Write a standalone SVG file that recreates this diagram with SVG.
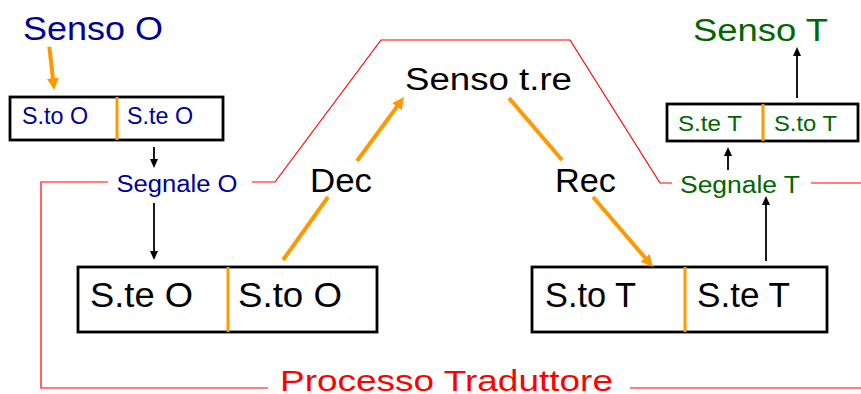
<svg xmlns="http://www.w3.org/2000/svg" width="861" height="394" viewBox="0 0 861 394">
<style>
text{font-family:"Liberation Sans",Arial,sans-serif}
.b{fill:#000099}.g{fill:#006600}.k{fill:#000}.r{fill:#ff0000}
.box{fill:#fff;stroke:#000;stroke-width:2.8}
.div{stroke:#ff9900;stroke-width:3}
.oa{stroke:#ff9900;stroke-width:4;fill:none}
.ka{stroke:#000;stroke-width:1.8;fill:none}
.red{stroke:#ff0000;stroke-width:1.2;fill:none}
</style>
<defs>
<marker id="oh" viewBox="0 0 12 12" refX="2" refY="6" markerWidth="12" markerHeight="12" markerUnits="userSpaceOnUse" orient="auto"><path d="M0,0 L12,6 L0,12 z" fill="#ff9900"/></marker>
<marker id="kh" viewBox="0 0 9 8" refX="2" refY="4" markerWidth="9" markerHeight="8" markerUnits="userSpaceOnUse" orient="auto"><path d="M0,0 L9,4 L0,8 z" fill="#000"/></marker>
</defs>
<g id="frame">
<path class="red" d="M108,182 H41 V388 H268 M252,182 H275 L381,40 H570 L660,183 H672 M811,183 H861 M630,388 H861"/>
<text class="r" x="280" y="391" font-size="30" textLength="333" lengthAdjust="spacingAndGlyphs">Processo Traduttore</text>
</g>
<g id="senso-o"><text class="b" x="23" y="40" font-size="33" textLength="140" lengthAdjust="spacingAndGlyphs">Senso O</text></g>
<g id="box-o-small">
<rect class="box" x="10" y="97" width="213" height="43"/>
<line class="div" x1="117" y1="97" x2="117" y2="140"/>
<text class="b" x="22" y="124" font-size="23" textLength="66" lengthAdjust="spacingAndGlyphs">S.to O</text>
<text class="b" x="127" y="124" font-size="23" textLength="66" lengthAdjust="spacingAndGlyphs">S.te O</text>
</g>
<g id="segnale-o"><text class="b" x="116.5" y="192" font-size="23" textLength="121" lengthAdjust="spacingAndGlyphs">Segnale O</text></g>
<g id="box-o-big">
<rect class="box" x="78" y="267" width="299" height="65"/>
<line class="div" x1="228" y1="267" x2="228" y2="332"/>
<text class="k" x="90" y="307" font-size="35" textLength="103" lengthAdjust="spacingAndGlyphs">S.te O</text>
<text class="k" x="238" y="307" font-size="35" textLength="104" lengthAdjust="spacingAndGlyphs">S.to O</text>
</g>
<g id="dec"><text class="k" x="310" y="192" font-size="33" textLength="62" lengthAdjust="spacingAndGlyphs">Dec</text></g>
<g id="senso-tre"><text class="k" x="405" y="90" font-size="31" textLength="167" lengthAdjust="spacingAndGlyphs">Senso t.re</text></g>
<g id="rec"><text class="k" x="555" y="192" font-size="33" textLength="61" lengthAdjust="spacingAndGlyphs">Rec</text></g>
<g id="box-t-big">
<rect class="box" x="532" y="267" width="295" height="65"/>
<line class="div" x1="685" y1="267" x2="685" y2="332"/>
<text class="k" x="545" y="307" font-size="35" textLength="91" lengthAdjust="spacingAndGlyphs">S.to T</text>
<text class="k" x="697" y="307" font-size="35" textLength="93" lengthAdjust="spacingAndGlyphs">S.te T</text>
</g>
<g id="segnale-t"><text class="g" x="680" y="193" font-size="23" textLength="120" lengthAdjust="spacingAndGlyphs">Segnale T</text></g>
<g id="box-t-small">
<rect class="box" x="667" y="104" width="191" height="37"/>
<line class="div" x1="763" y1="104" x2="763" y2="141"/>
<text class="g" x="678" y="131" font-size="22" textLength="64" lengthAdjust="spacingAndGlyphs">S.te T</text>
<text class="g" x="774" y="131" font-size="22" textLength="63" lengthAdjust="spacingAndGlyphs">S.to T</text>
</g>
<g id="senso-t"><text class="g" x="693" y="41" font-size="31" textLength="135" lengthAdjust="spacingAndGlyphs">Senso T</text></g>
<g id="connectors">
<line class="oa" x1="49.3" y1="46.7" x2="53.1" y2="80.1" marker-end="url(#oh)"/>
<line class="oa" x1="283" y1="260" x2="328" y2="197"/>
<line class="oa" x1="357" y1="161" x2="398.1" y2="105.1" marker-end="url(#oh)"/>
<line class="oa" x1="509" y1="98" x2="562" y2="160"/>
<line class="oa" x1="593" y1="197" x2="646.5" y2="259.4" marker-end="url(#oh)"/>
<line class="ka" x1="154" y1="147" x2="154" y2="161" marker-end="url(#kh)"/>
<line class="ka" x1="154" y1="203" x2="154" y2="253" marker-end="url(#kh)"/>
<line class="ka" x1="728" y1="170" x2="728" y2="154" marker-end="url(#kh)"/>
<line class="ka" x1="797" y1="98" x2="797" y2="54" marker-end="url(#kh)"/>
<line class="ka" x1="766" y1="261" x2="766" y2="203" marker-end="url(#kh)"/>
</g>
</svg>
